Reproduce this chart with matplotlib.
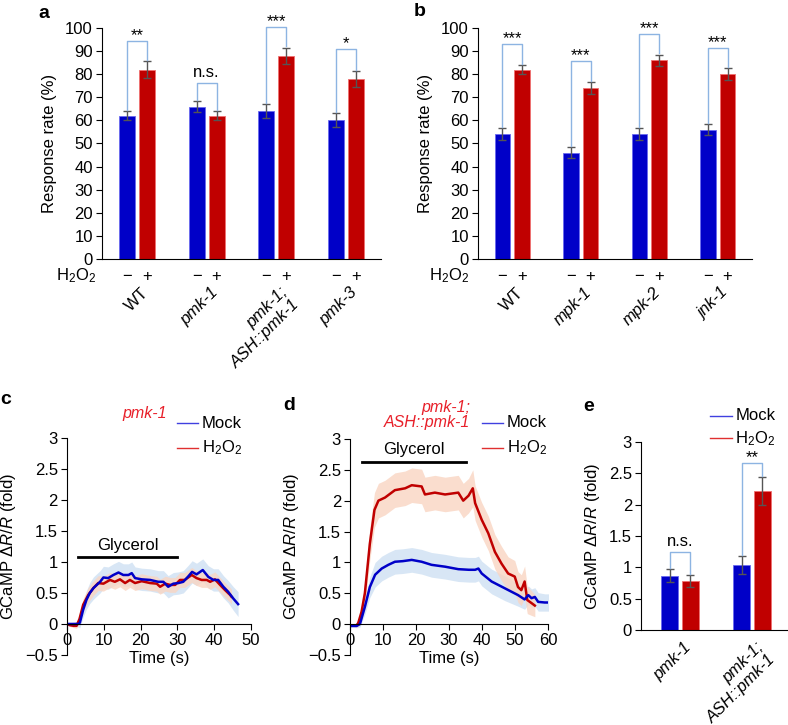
import numpy as np
import matplotlib
matplotlib.use('Agg')
import matplotlib.pyplot as plt
from matplotlib.ticker import FuncFormatter, MultipleLocator

plt.rcParams['font.family'] = ['Liberation Sans', 'DejaVu Sans']
plt.rcParams['mathtext.fontset'] = 'custom'
plt.rcParams['mathtext.rm'] = 'Liberation Sans'
plt.rcParams['mathtext.it'] = 'Liberation Sans:italic'
plt.rcParams['font.size'] = 12

# Panel a: response rate, p38 pathway mutants
a_groups = ['WT', 'pmk-1', 'pmk-1;\nASH::pmk-1', 'pmk-3']
a_mock = [62, 66, 64, 60]
a_mock_err = [2, 2.5, 3, 3]
a_h2o2 = [82, 62, 88, 78]
a_h2o2_err = [3.5, 2, 3.5, 3.5]
a_sig = ['**', 'n.s.', '***', '*']
a_top = [94.4, 76, 100.4, 91]

# Panel b: response rate, other MAPK mutants
b_groups = ['WT', 'mpk-1', 'mpk-2', 'jnk-1']
b_mock = [54, 46, 54, 56]
b_mock_err = [2.5, 2.5, 2.5, 2.5]
b_h2o2 = [82, 74, 86, 80]
b_h2o2_err = [2, 2.5, 2.5, 2.5]
b_sig = ['***', '***', '***', '***']
b_top = [93, 85.7, 97.4, 91.3]

# Panel c: pmk-1 calcium traces
c_mock_t = [0, 1, 2, 3, 3.5, 4.4, 5.3, 6.2, 7.2, 8.1, 9, 9.9, 11.2, 12.6, 14, 15.3, 16.7,
            17.6, 18.5, 20.3, 22.6, 24.8, 26.2, 27.5, 28.9, 30.3, 31.6, 33, 34, 35.2, 36.9,
            38.4, 39.8, 41.1, 42.5, 43.8, 45.2, 46.5]
c_mock = [0, 0, 0, 0, 0.02, 0.23, 0.39, 0.5, 0.58, 0.63, 0.68, 0.75, 0.74, 0.79, 0.83, 0.79, 0.79,
          0.82, 0.74, 0.72, 0.71, 0.68, 0.68, 0.6, 0.65, 0.66, 0.68, 0.77, 0.84, 0.8, 0.87,
          0.76, 0.71, 0.71, 0.6, 0.52, 0.41, 0.32]
c_mock_sem = [0.02, 0.02, 0.03, 0.05, 0.08, 0.12, 0.15, 0.17, 0.18, 0.18, 0.18, 0.18, 0.18, 0.18, 0.18, 0.18, 0.18,
              0.18, 0.18, 0.18, 0.18, 0.18, 0.18, 0.18, 0.18, 0.18, 0.18, 0.18, 0.18, 0.18, 0.18,
              0.18, 0.18, 0.18, 0.18, 0.18, 0.19, 0.2]
c_h2o2_t = [0, 0.8, 1.8, 2.6, 3.4, 4.4, 5.8, 7.2, 8.5, 9.9, 11.7, 13, 14.4, 15.8, 17.1, 18.5,
            20.3, 22.6, 24.4, 25.3, 26.7, 28, 29.4, 30.7, 32, 33.9, 35.2, 36.6, 38, 38.9, 40.2,
            41.6, 42.9, 44.3, 44.7]
c_h2o2 = [0, -0.02, -0.03, -0.03, 0.08, 0.31, 0.47, 0.58, 0.66, 0.65, 0.71, 0.68, 0.72, 0.66, 0.71, 0.66,
          0.69, 0.66, 0.65, 0.6, 0.65, 0.63, 0.63, 0.71, 0.71, 0.79, 0.74, 0.71, 0.71, 0.68, 0.72,
          0.63, 0.55, 0.47, 0.44]
c_h2o2_sem = [0.02, 0.02, 0.03, 0.04, 0.07, 0.1, 0.12, 0.12, 0.12, 0.12, 0.12, 0.12, 0.12, 0.12, 0.12, 0.12,
              0.12, 0.12, 0.12, 0.12, 0.12, 0.12, 0.12, 0.12, 0.12, 0.12, 0.12, 0.12, 0.12, 0.12, 0.12,
              0.12, 0.12, 0.12, 0.12]

# Panel d: pmk-1; ASH::pmk-1 calcium traces
d_mock_t = [0, 1, 2, 3, 4.5, 6, 7.6, 9.6, 11.6, 13.6, 16, 18.7, 21.7, 24.7, 28.8, 32.8, 36,
            37.9, 38.9, 39.9, 42.9, 46.9, 50.9, 52.9, 54, 55, 56, 57, 59, 60.3]
d_mock = [-0.03, -0.03, -0.03, 0.0, 0.28, 0.6, 0.8, 0.9, 0.96, 1.01, 1.02, 1.04, 1.01, 0.96, 0.93, 0.89, 0.88,
          0.88, 0.9, 0.82, 0.69, 0.58, 0.47, 0.4, 0.47, 0.42, 0.44, 0.36, 0.35, 0.35]
d_mock_sem = [0.02, 0.02, 0.03, 0.05, 0.12, 0.17, 0.2, 0.2, 0.2, 0.2, 0.2, 0.2, 0.2, 0.2, 0.2, 0.2, 0.2,
              0.2, 0.2, 0.2, 0.2, 0.2, 0.18, 0.16, 0.15, 0.15, 0.15, 0.15, 0.14, 0.14]
d_h2o2_t = [0, 1, 2, 2.5, 3.5, 4.5, 6, 7.4, 8.6, 10.6, 13.6, 16.7, 18.7, 21.7, 22.7, 25.7, 28.8,
            32.8, 34.3, 35.9, 37.2, 37.9, 39.9, 41.9, 43.9, 45.9, 47.9, 49.9, 50.9, 51.9, 52.9,
            53.7, 55, 56]
d_h2o2 = [-0.02, -0.02, -0.02, 0.02, 0.2, 0.5, 1.3, 1.85, 2.0, 2.05, 2.17, 2.2, 2.25, 2.23, 2.1, 2.13, 2.1,
          2.13, 2.0, 2.08, 2.2, 1.96, 1.69, 1.47, 1.17, 0.98, 0.82, 0.77, 0.6, 0.55, 0.69,
          0.39, 0.34, 0.3]
d_h2o2_sem = [0.02, 0.02, 0.03, 0.05, 0.12, 0.2, 0.26, 0.28, 0.28, 0.28, 0.28, 0.28, 0.28, 0.28, 0.28, 0.28, 0.28,
              0.28, 0.28, 0.28, 0.3, 0.28, 0.28, 0.28, 0.28, 0.28, 0.27, 0.26, 0.25, 0.25, 0.25,
              0.22, 0.2, 0.18]

# Panel e: peak responses
e_groups = ['pmk-1', 'pmk-1;\nASH::pmk-1']
e_mock = [0.87, 1.04]
e_mock_err = [0.1, 0.14]
e_h2o2 = [0.78, 2.22]
e_h2o2_err = [0.1, 0.22]
e_sig = ['n.s.', '**']
e_top = [1.24, 2.66]

BLUE = '#0000c8'
RED = '#c00000'
BRACKET = '#8db4e2'
ERR = '#555555'
TITLE_RED = '#e8202a'
FS = 12

fmt = FuncFormatter(lambda v, p: ('%g' % v).replace('-', '\u2212'))


def style_axes(ax):
    ax.spines['top'].set_visible(False)
    ax.spines['right'].set_visible(False)
    ax.tick_params(direction='out', length=4, width=0.8, labelsize=FS, pad=2.5)


def bar_panel(ax, groups, mock, mock_err, h2o2, h2o2_err, sig, tops, scale, off, w):
    x = np.arange(len(groups))
    ax.bar(x - off, mock, w, color=BLUE, edgecolor='#6a6af0', linewidth=0.6)
    ax.bar(x + off, h2o2, w, color=RED, edgecolor='#f07070', linewidth=0.6)
    ax.errorbar(x - off, mock, yerr=mock_err, fmt='none', ecolor=ERR, elinewidth=1, capsize=3, capthick=1)
    ax.errorbar(x + off, h2o2, yerr=h2o2_err, fmt='none', ecolor=ERR, elinewidth=1, capsize=3, capthick=1)
    for i in range(len(groups)):
        yl = mock[i] + mock_err[i] + 0.005 * scale
        yr = h2o2[i] + h2o2_err[i] + 0.005 * scale
        ax.plot([x[i] - off, x[i] - off, x[i] + off, x[i] + off], [yl, tops[i], tops[i], yr],
                color=BRACKET, lw=1, clip_on=False)
        # asterisks sit high in the font, so they need a smaller lift than "n.s."
        lift = 0.8 if '*' in sig[i] else 4.3
        ax.annotate(sig[i], (x[i], tops[i]), xytext=(0, lift), textcoords='offset points',
                    ha='center', va='baseline', fontsize=FS, annotation_clip=False)
    style_axes(ax)
    ax.set_xticks([])
    ax.set_xlim(-0.5, len(groups) - 0.5)
    return x


def group_labels(ax, x, groups, dx, y):
    for xi, g in zip(x, groups):
        ax.text(xi + dx, y, g, transform=ax.get_xaxis_transform(), rotation=45,
                rotation_mode='anchor', ha='right', va='top', multialignment='right',
                fontsize=FS, style='normal' if g == 'WT' else 'italic', linespacing=1.2)


def h2o2_row(ax, x, off, lab_x, y):
    for xi in x:
        ax.text(xi - off, y, '\u2212', transform=ax.get_xaxis_transform(), ha='center', va='center', fontsize=FS)
        ax.text(xi + off, y, '+', transform=ax.get_xaxis_transform(), ha='center', va='center', fontsize=FS)
    ax.text(lab_x, y, 'H$_2$O$_2$', transform=ax.transAxes, ha='right', va='center', fontsize=FS)


def legend_lines(ax, x0, x1, y0, y1):
    ax.plot([x0, x1], [y0, y0], transform=ax.transAxes, color='#4040e0', lw=1, clip_on=False)
    ax.plot([x0, x1], [y1, y1], transform=ax.transAxes, color='#e03030', lw=1, clip_on=False)
    ax.text(x1 + 0.02, y0, 'Mock', transform=ax.transAxes, ha='left', va='center', fontsize=FS)
    ax.text(x1 + 0.02, y1, 'H$_2$O$_2$', transform=ax.transAxes, ha='left', va='center', fontsize=FS)


def trace_panel(ax, mt, mv, ms, ht, hv, hs, xmax, gly, title, tpos, tha, leg):
    mt, mv, ms = np.array(mt), np.array(mv), np.array(ms)
    ht, hv, hs = np.array(ht), np.array(hv), np.array(hs)
    ax.fill_between(mt, mv - ms, mv + ms, color='#d4e4f4', lw=0, alpha=0.9)
    ax.fill_between(ht, hv - hs, hv + hs, color='#f9d5c2', lw=0, alpha=0.8)
    ax.plot(ht, hv, color=RED, lw=1.8)
    ax.plot(mt, mv, color=BLUE, lw=1.8)
    ax.plot([gly[0], gly[1]], [gly[2], gly[2]], color='black', lw=2)
    ax.text((gly[0] + gly[1]) / 2, gly[2] + 0.07, 'Glycerol', ha='center', va='bottom', fontsize=FS)
    ax.text(tpos[0], tpos[1], title, transform=ax.transAxes, ha=tha, va='center', color=TITLE_RED,
            style='italic', fontsize=11.5, multialignment='right', linespacing=1.05)
    legend_lines(ax, *leg)
    style_axes(ax)
    ax.spines['bottom'].set_position(('data', 0))
    ax.set_xlim(0, xmax)
    ax.set_ylim(-0.5, 3)
    ax.xaxis.set_major_locator(MultipleLocator(10))
    ax.yaxis.set_major_locator(MultipleLocator(0.5))
    ax.yaxis.set_major_formatter(fmt)
    ax.set_xlabel('Time (s)', fontsize=FS, labelpad=2)
    ax.set_ylabel(r'GCaMP $\Delta\mathit{R}/\mathit{R}$ (fold)', fontsize=FS, labelpad=5)


fig = plt.figure(figsize=(7.88, 7.25), dpi=100)

# a
ax_a = fig.add_axes([0.1294, 0.6428, 0.354, 0.3186])
xa = bar_panel(ax_a, a_groups, a_mock, a_mock_err, a_h2o2, a_h2o2_err, a_sig, a_top, 100, 0.143, 0.23)
ax_a.set_ylim(0, 100)
ax_a.yaxis.set_major_locator(MultipleLocator(10))
ax_a.set_ylabel('Response rate (%)', fontsize=FS, labelpad=6)
h2o2_row(ax_a, xa, 0.143, -0.022, -0.074)
group_labels(ax_a, xa, a_groups, 0.05, -0.112)

# b
ax_b = fig.add_axes([0.6066, 0.6428, 0.3477, 0.3186])
xb = bar_panel(ax_b, b_groups, b_mock, b_mock_err, b_h2o2, b_h2o2_err, b_sig, b_top, 100, 0.143, 0.23)
ax_b.set_ylim(0, 100)
ax_b.yaxis.set_major_locator(MultipleLocator(10))
ax_b.set_ylabel('Response rate (%)', fontsize=FS, labelpad=6)
h2o2_row(ax_b, xb, 0.143, -0.033, -0.074)
group_labels(ax_b, xb, b_groups, 0.05, -0.112)

# c
ax_c = fig.add_axes([0.085, 0.0966, 0.2335, 0.2993])
trace_panel(ax_c, c_mock_t, c_mock, c_mock_sem, c_h2o2_t, c_h2o2, c_h2o2_sem, 50,
            (3, 30, 1.08), 'pmk-1', (0.42, 1.115), 'center', (0.598, 0.712, 1.069, 0.954))

# d
ax_d = fig.add_axes([0.4442, 0.0966, 0.2513, 0.298])
trace_panel(ax_d, d_mock_t, d_mock, d_mock_sem, d_h2o2_t, d_h2o2, d_h2o2_sem, 60,
            (3.5, 35, 2.63), 'pmk-1;\nASH::pmk-1', (0.606, 1.11), 'right', (0.667, 0.773, 1.074, 0.958))

# e
ax_e = fig.add_axes([0.8135, 0.131, 0.1866, 0.2593])
xe = bar_panel(ax_e, e_groups, e_mock, e_mock_err, e_h2o2, e_h2o2_err, e_sig, e_top, 3, 0.14, 0.236)
ax_e.set_xlim(-0.54, 1.5)
ax_e.set_ylim(0, 3)
ax_e.yaxis.set_major_locator(MultipleLocator(0.5))
ax_e.yaxis.set_major_formatter(fmt)
ax_e.set_ylabel(r'GCaMP $\Delta\mathit{R}/\mathit{R}$ (fold)', fontsize=FS, labelpad=5)
group_labels(ax_e, xe, e_groups, 0.05, -0.05)
legend_lines(ax_e, 0.47, 0.62, 1.14, 1.02)

for lab, px, py in [('a', 44, 14), ('b', 420, 12), ('c', 6, 400), ('d', 289, 405), ('e', 589, 406)]:
    fig.text(px / 788, 1 - py / 725, lab, ha='center', va='center', fontsize=14, fontweight='bold')

fig.savefig('out.png', dpi=100)
